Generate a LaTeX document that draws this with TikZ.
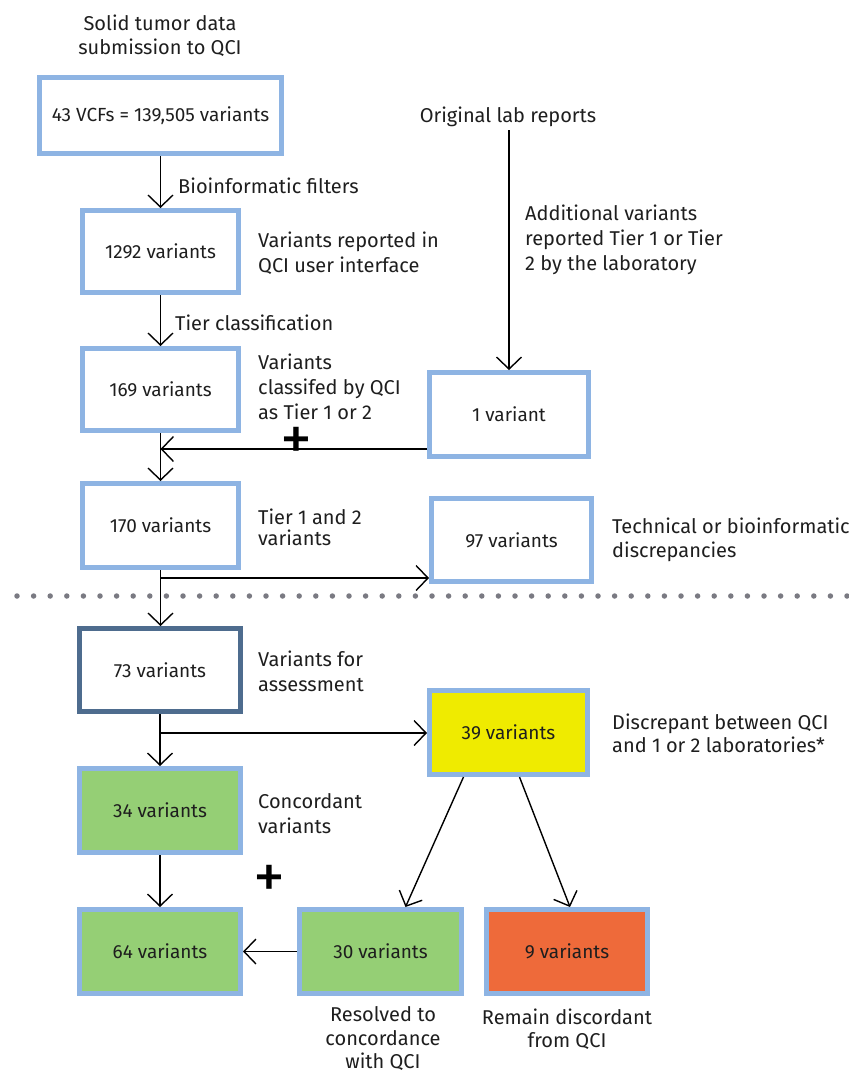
\documentclass[tikz,border=0pt]{standalone}
\usepackage{fontspec}
\setmainfont{Fira Sans}
\usetikzlibrary{arrows.meta,calc}
\definecolor{boxblue}{HTML}{8EB4E3}
\definecolor{boxdark}{HTML}{4E6C8E}
\definecolor{okgreen}{HTML}{95CF75}
\definecolor{hiyellow}{HTML}{EFEB00}
\definecolor{badorange}{HTML}{EE6A3A}
\definecolor{dotgray}{HTML}{7A7A82}
\definecolor{inkgray}{HTML}{1E1E1E}
\begin{document}
\begin{tikzpicture}[x=1pt,y=-1pt,>={Straight Barb[length=12pt,width=25pt]},
    every node/.style={font=\fontsize{20}{25}\selectfont,text=inkgray},
    vbox/.style={draw=boxblue,line width=5pt,minimum width=159pt,minimum height=84pt,inner sep=0pt,
      font=\fontsize{19}{24}\selectfont},
    note/.style={anchor=west,align=left,inner sep=0pt},
    flow/.style={->,line width=1.4pt},
    plus/.style={font=\fontsize{64}{64}\selectfont,text=black,inner sep=0pt}]
    \useasboundingbox (0,0) rectangle (849,1077);
    % upper part
    \node[align=center,font=\fontsize{20}{24}\selectfont] (title) at (160,36) {Solid tumor data\\submission to QCI};
    \node[vbox,minimum width=242pt,minimum height=76pt] (b43) at (160.5,115.5) {43 VCFs = 139,505 variants};
    \node[vbox,minimum width=156pt,minimum height=82pt] (b1292) at (160.5,251.5) {1292 variants};
    \node[vbox,minimum width=156pt,minimum height=82pt] (b169) at (160.5,389.5) {169 variants};
    \node[vbox] (b1) at (509,414.5) {1 variant};
    \node[vbox,minimum width=156pt] (b170) at (160.5,525.5) {170 variants};
    \node[vbox,minimum width=160pt,minimum height=83pt] (b97) at (511.5,540) {97 variants};
    \node (orig) at (508,117) {Original lab reports};
    \node[note] (lbio) at (178,186) {Bioinformatic filters};
    \node[note] (ltier) at (175,323) {Tier classification};
    \node[note] (l1292) at (258,253.5) {Variants reported in\\QCI user interface};
    \node[note] (l169) at (258,387) {Variants\\classifed by QCI\\as Tier 1 or 2};
    \node[note] (ladd) at (525,240) {Additional variants\\reported Tier 1 or Tier\\2 by the laboratory};
    \node[note,font=\fontsize{20}{21}\selectfont] (l170) at (258,527) {Tier 1 and 2\\variants};
    \node[note,font=\fontsize{20}{24}\selectfont] (l97) at (612,540) {Technical or bioinformatic\\discrepancies};
    \node[plus] (plus1) at (296,444) {+};
    \draw[flow] (b43) -- (b1292);
    \draw[flow] (b1292) -- (b169);
    \draw[flow] (b1.north |- orig.south) -- (b1.north);
    \coordinate (m1) at (160.5,449);
    \draw[flow] (b1.west |- m1) -- (m1);
    \draw[flow] (b169) -- (b170);
    % dotted divider
    \draw[dotgray,line width=5.5pt,line cap=round,dash pattern=on 0pt off 16.6pt] (17,596) -- (849,596);
    % lower part
    \node[vbox,draw=boxdark,minimum width=161pt,minimum height=83pt] (b73) at (160,670) {73 variants};
    \node[vbox,fill=hiyellow,minimum width=158pt] (b39) at (508.5,732.5) {39 variants};
    \node[vbox,fill=okgreen,minimum width=161pt] (b34) at (160,810.5) {34 variants};
    \node[vbox,fill=okgreen,minimum width=161pt] (b64) at (160,951.5) {64 variants};
    \node[vbox,fill=okgreen,minimum width=162pt] (b30) at (380.5,951.5) {30 variants};
    \node[vbox,fill=badorange,minimum width=161pt] (b9) at (567,951.5) {9 variants};
    \node[note] (l73) at (258,671) {Variants for\\assessment};
    \node[note,font=\fontsize{20}{23}\selectfont] (l39) at (612,733) {Discrepant between QCI\\and 1 or 2 laboratories*};
    \node[note] (l34) at (258,814) {Concordant\\variants};
    \node[align=center,font=\fontsize{20}{23.5}\selectfont] (l30) at (383,1039) {Resolved to\\concordance\\with QCI};
    \node[align=center,font=\fontsize{20}{23.5}\selectfont] (l9) at (567,1029) {Remain discordant\\from QCI};
    \node[plus] (plus2) at (269,882) {+};
    \draw[flow] (b170.south) -- (b170.south |- b73.north);
    \coordinate (m2) at (160.5,578);
    \draw[flow] (m2) -- (m2 -| b97.west);
    \draw[flow] (b73) -- (b34);
    \coordinate (m3) at (160,733);
    \draw[flow] (m3) -- (m3 -| b39.west);
    \draw[flow] (b34) -- (b64);
    \draw[flow] (b30) -- (b64);
    \draw[flow] ($(b39.south)+(-45,0)$) -- ($(b30.north)+(25,0)$);
    \draw[flow] ($(b39.south)+(11,0)$) -- ($(b9.north)+(3,0)$);
\end{tikzpicture}
\end{document}
